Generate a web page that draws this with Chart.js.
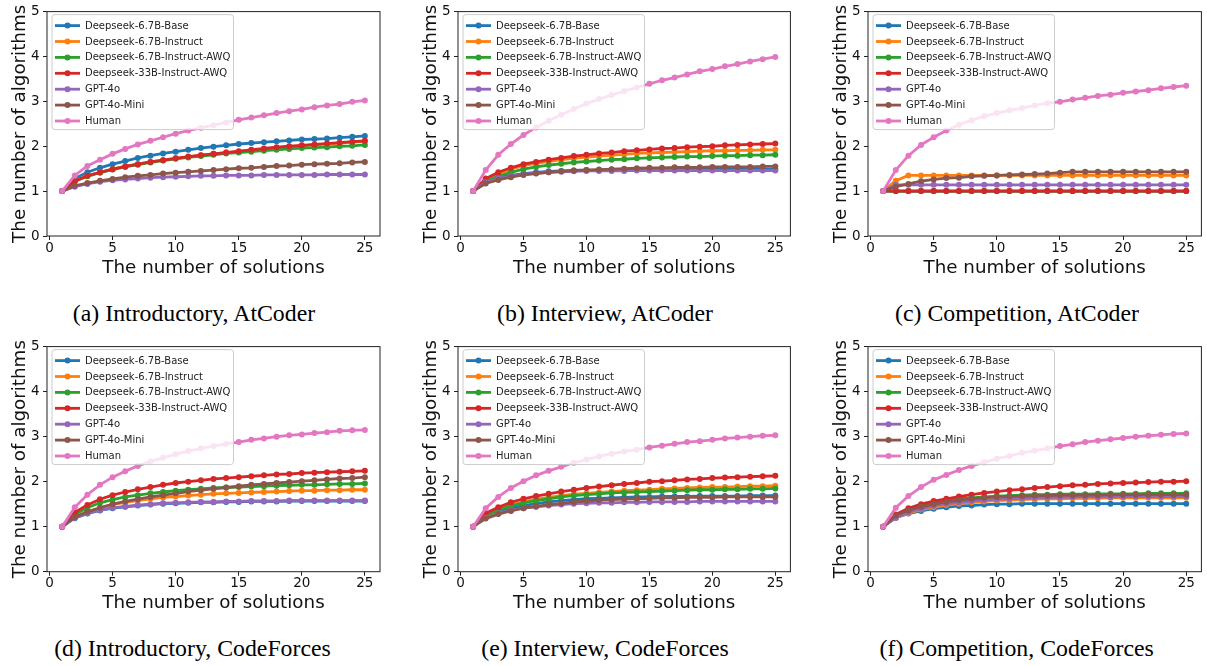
<!DOCTYPE html>
<html><head><meta charset="utf-8">
<script src="https://cdn.jsdelivr.net/npm/chart.js@4.4.1/dist/chart.umd.min.js"></script>
<style>
html,body{margin:0;padding:0;background:#fff;}
#fig{position:relative;width:1207px;height:666px;overflow:hidden;background:#fff;}
#fig canvas{position:absolute;}
.cap{position:absolute;width:360px;text-align:center;font-family:"Liberation Serif","Times New Roman",serif;font-size:23.8px;color:#000;line-height:24px;white-space:nowrap;}
</style></head><body><div id="fig"></div>
<script>
// ---- data ----
const solutions = [1,2,3,4,5,6,7,8,9,10,11,12,13,14,15,16,17,18,19,20,21,22,23,24,25];
const xTicks = [0,5,10,15,20,25];
const yTicks = [0,1,2,3,4,5];
const seriesNames = ["Deepseek-6.7B-Base","Deepseek-6.7B-Instruct","Deepseek-6.7B-Instruct-AWQ","Deepseek-33B-Instruct-AWQ","GPT-4o","GPT-4o-Mini","Human"];
const seriesColors = ["#1f77b4","#ff7f0e","#2ca02c","#d62728","#9467bd","#8c564b","#e377c2"];
const captions = ["(a) Introductory, AtCoder","(b) Interview, AtCoder","(c) Competition, AtCoder","(d) Introductory, CodeForces","(e) Interview, CodeForces","(f) Competition, CodeForces"];
const xTitle = "The number of solutions";
const yTitle = "The number of algorithms";

// (a) Introductory, AtCoder
const aBase     = [1.00,1.28,1.42,1.52,1.60,1.67,1.74,1.79,1.84,1.88,1.92,1.96,1.99,2.02,2.05,2.07,2.09,2.11,2.13,2.15,2.16,2.17,2.19,2.21,2.23];
const aInstruct = [1.00,1.22,1.34,1.42,1.49,1.55,1.60,1.65,1.69,1.73,1.76,1.80,1.83,1.86,1.88,1.91,1.94,1.96,1.99,2.01,2.03,2.05,2.07,2.09,2.11];
const aAwq      = [1.00,1.22,1.33,1.41,1.48,1.54,1.59,1.64,1.68,1.72,1.75,1.78,1.81,1.84,1.86,1.88,1.90,1.92,1.94,1.96,1.97,1.98,2.00,2.01,2.03];
const a33b      = [1.00,1.22,1.34,1.42,1.49,1.55,1.60,1.65,1.69,1.73,1.77,1.80,1.83,1.86,1.89,1.92,1.95,1.98,2.00,2.02,2.04,2.06,2.08,2.10,2.12];
const aGpt4o    = [1.00,1.10,1.16,1.21,1.24,1.26,1.28,1.30,1.31,1.32,1.33,1.34,1.34,1.35,1.35,1.35,1.36,1.36,1.36,1.36,1.36,1.37,1.37,1.37,1.37];
const aMini     = [1.00,1.12,1.18,1.23,1.27,1.31,1.34,1.36,1.39,1.41,1.43,1.45,1.47,1.49,1.51,1.52,1.54,1.56,1.57,1.59,1.60,1.61,1.62,1.64,1.65];
const aHuman    = [1.00,1.35,1.56,1.70,1.83,1.94,2.04,2.12,2.20,2.28,2.35,2.41,2.47,2.53,2.59,2.64,2.69,2.74,2.78,2.82,2.87,2.91,2.94,2.99,3.02];

// (b) Interview, AtCoder
const bBase     = [1.00,1.22,1.30,1.35,1.39,1.42,1.44,1.45,1.46,1.47,1.47,1.48,1.48,1.48,1.48,1.49,1.49,1.49,1.49,1.49,1.49,1.49,1.49,1.49,1.49];
const bInstruct = [1.00,1.25,1.39,1.49,1.57,1.62,1.66,1.70,1.73,1.76,1.78,1.80,1.82,1.84,1.85,1.86,1.87,1.88,1.89,1.90,1.90,1.91,1.91,1.92,1.92];
const bAwq      = [1.00,1.22,1.33,1.42,1.49,1.54,1.58,1.61,1.64,1.66,1.68,1.70,1.71,1.73,1.74,1.75,1.76,1.77,1.77,1.78,1.79,1.79,1.80,1.80,1.81];
const b33b      = [1.00,1.28,1.42,1.52,1.60,1.65,1.70,1.74,1.78,1.81,1.84,1.86,1.89,1.91,1.93,1.95,1.96,1.98,1.99,2.00,2.02,2.03,2.04,2.05,2.06];
const bGpt4o    = [1.00,1.20,1.28,1.33,1.37,1.40,1.42,1.43,1.44,1.45,1.45,1.45,1.45,1.46,1.46,1.46,1.46,1.46,1.46,1.46,1.46,1.46,1.46,1.46,1.46];
const bMini     = [1.00,1.17,1.25,1.31,1.36,1.39,1.42,1.44,1.46,1.47,1.48,1.49,1.50,1.51,1.52,1.52,1.53,1.53,1.53,1.54,1.54,1.54,1.54,1.55,1.55];
const bHuman    = [1.00,1.47,1.81,2.05,2.25,2.42,2.57,2.70,2.83,2.95,3.05,3.14,3.23,3.31,3.39,3.47,3.53,3.60,3.67,3.72,3.78,3.83,3.89,3.94,3.99];

// (c) Competition, AtCoder
const cBase     = [1.00,1.00,1.00,1.00,1.00,1.00,1.00,1.00,1.00,1.00,1.00,1.00,1.00,1.00,1.00,1.00,1.00,1.00,1.00,1.00,1.00,1.00,1.00,1.00,1.00];
const cInstruct = [1.00,1.23,1.35,1.35,1.35,1.35,1.35,1.35,1.35,1.35,1.35,1.35,1.35,1.35,1.35,1.35,1.35,1.35,1.35,1.35,1.35,1.35,1.35,1.35,1.35];
const cAwq      = [1.00,1.00,1.00,1.00,1.00,1.00,1.00,1.00,1.00,1.00,1.00,1.00,1.00,1.00,1.00,1.00,1.00,1.00,1.00,1.00,1.00,1.00,1.00,1.00,1.00];
const c33b      = [1.00,1.00,1.00,1.00,1.00,1.00,1.00,1.00,1.00,1.00,1.00,1.00,1.00,1.00,1.00,1.00,1.00,1.00,1.00,1.00,1.00,1.00,1.00,1.00,1.00];
const cGpt4o    = [1.00,1.14,1.14,1.14,1.14,1.14,1.14,1.14,1.14,1.14,1.14,1.14,1.14,1.14,1.14,1.14,1.14,1.14,1.14,1.14,1.14,1.14,1.14,1.14,1.14];
const cMini     = [1.00,1.10,1.16,1.22,1.26,1.29,1.30,1.33,1.34,1.35,1.36,1.37,1.38,1.39,1.41,1.43,1.43,1.43,1.43,1.43,1.43,1.43,1.43,1.43,1.43];
const cHuman    = [1.00,1.47,1.79,2.03,2.20,2.35,2.48,2.58,2.67,2.74,2.80,2.85,2.91,2.96,2.99,3.04,3.08,3.12,3.15,3.19,3.22,3.25,3.29,3.32,3.35];

// (d) Introductory, CodeForces
const dBase     = [1.00,1.19,1.29,1.36,1.41,1.44,1.47,1.49,1.51,1.52,1.53,1.54,1.54,1.55,1.55,1.56,1.56,1.56,1.57,1.57,1.57,1.57,1.57,1.57,1.57];
const dInstruct = [1.00,1.22,1.33,1.42,1.49,1.54,1.58,1.62,1.65,1.67,1.69,1.71,1.73,1.74,1.75,1.76,1.77,1.78,1.79,1.80,1.80,1.81,1.81,1.82,1.82];
const dAwq      = [1.00,1.27,1.42,1.53,1.60,1.66,1.70,1.74,1.77,1.80,1.82,1.84,1.86,1.87,1.88,1.89,1.90,1.91,1.92,1.93,1.93,1.94,1.95,1.95,1.96];
const d33b      = [1.00,1.32,1.48,1.61,1.70,1.77,1.83,1.88,1.93,1.97,2.00,2.03,2.06,2.08,2.10,2.12,2.14,2.16,2.17,2.19,2.20,2.21,2.22,2.23,2.24];
const dGpt4o    = [1.00,1.20,1.30,1.37,1.42,1.45,1.48,1.50,1.52,1.53,1.54,1.55,1.55,1.56,1.56,1.57,1.57,1.57,1.58,1.58,1.58,1.58,1.58,1.58,1.58];
const dMini     = [1.00,1.21,1.33,1.42,1.50,1.56,1.61,1.66,1.70,1.74,1.78,1.81,1.84,1.87,1.90,1.93,1.95,1.97,1.99,2.01,2.03,2.05,2.07,2.08,2.10];
const dHuman    = [1.00,1.43,1.71,1.93,2.10,2.23,2.35,2.45,2.53,2.61,2.68,2.74,2.79,2.84,2.88,2.93,2.96,3.00,3.03,3.05,3.08,3.10,3.13,3.14,3.15];

// (e) Interview, CodeForces
const eBase     = [1.00,1.22,1.33,1.41,1.47,1.51,1.55,1.58,1.60,1.62,1.63,1.64,1.65,1.66,1.66,1.67,1.67,1.67,1.68,1.68,1.68,1.68,1.69,1.69,1.69];
const eInstruct = [1.00,1.25,1.38,1.48,1.55,1.61,1.65,1.69,1.72,1.74,1.76,1.78,1.80,1.81,1.82,1.84,1.85,1.86,1.87,1.88,1.88,1.89,1.90,1.90,1.91];
const eAwq      = [1.00,1.24,1.37,1.46,1.53,1.58,1.62,1.66,1.69,1.71,1.73,1.75,1.76,1.77,1.78,1.79,1.80,1.81,1.82,1.82,1.83,1.83,1.84,1.84,1.85];
const e33b      = [1.00,1.30,1.43,1.54,1.62,1.68,1.73,1.78,1.82,1.86,1.89,1.92,1.95,1.97,2.00,2.01,2.03,2.05,2.06,2.08,2.09,2.10,2.11,2.12,2.13];
const eGpt4o    = [1.00,1.20,1.30,1.36,1.41,1.44,1.47,1.49,1.51,1.52,1.53,1.53,1.54,1.54,1.55,1.55,1.55,1.55,1.56,1.56,1.56,1.56,1.56,1.56,1.56];
const eMini     = [1.00,1.18,1.28,1.35,1.41,1.45,1.49,1.52,1.55,1.57,1.59,1.60,1.61,1.62,1.63,1.64,1.64,1.65,1.65,1.65,1.66,1.66,1.66,1.66,1.66];
const eHuman    = [1.00,1.41,1.66,1.86,2.01,2.14,2.24,2.33,2.42,2.49,2.56,2.62,2.67,2.71,2.76,2.80,2.84,2.88,2.90,2.93,2.96,2.98,3.00,3.02,3.03];

// (f) Competition, CodeForces
const fBase     = [1.00,1.20,1.29,1.35,1.40,1.43,1.46,1.47,1.49,1.50,1.50,1.51,1.51,1.51,1.51,1.51,1.51,1.51,1.51,1.51,1.51,1.51,1.51,1.51,1.51];
const fInstruct = [1.00,1.20,1.30,1.38,1.43,1.48,1.51,1.54,1.56,1.58,1.59,1.60,1.61,1.62,1.62,1.63,1.63,1.63,1.64,1.64,1.64,1.64,1.64,1.64,1.64];
const fAwq      = [1.00,1.25,1.38,1.46,1.53,1.58,1.62,1.64,1.66,1.68,1.69,1.70,1.71,1.71,1.72,1.72,1.72,1.73,1.73,1.73,1.73,1.74,1.74,1.74,1.74];
const f33b      = [1.00,1.27,1.41,1.50,1.57,1.62,1.67,1.71,1.75,1.78,1.81,1.83,1.86,1.88,1.90,1.92,1.93,1.95,1.96,1.97,1.98,1.99,2.00,2.00,2.01];
const fGpt4o    = [1.00,1.20,1.32,1.40,1.46,1.51,1.54,1.57,1.59,1.61,1.62,1.63,1.64,1.65,1.65,1.66,1.66,1.66,1.66,1.67,1.67,1.67,1.67,1.67,1.67];
const fMini     = [1.00,1.25,1.36,1.44,1.50,1.55,1.59,1.62,1.64,1.66,1.67,1.68,1.69,1.69,1.70,1.70,1.70,1.70,1.71,1.71,1.71,1.71,1.71,1.71,1.71];
const fHuman    = [1.00,1.42,1.68,1.88,2.04,2.15,2.26,2.35,2.43,2.51,2.57,2.64,2.69,2.74,2.79,2.83,2.88,2.91,2.94,2.97,3.00,3.02,3.04,3.06,3.07];

const panelSeries = [
  [aBase,aInstruct,aAwq,a33b,aGpt4o,aMini,aHuman],
  [bBase,bInstruct,bAwq,b33b,bGpt4o,bMini,bHuman],
  [cBase,cInstruct,cAwq,c33b,cGpt4o,cMini,cHuman],
  [dBase,dInstruct,dAwq,d33b,dGpt4o,dMini,dHuman],
  [eBase,eInstruct,eAwq,e33b,eGpt4o,eMini,eHuman],
  [fBase,fInstruct,fAwq,f33b,fGpt4o,fMini,fHuman]
];

// ---- layout (pixel geometry) ----
const colAxLeft = [47, 458.3, 868.3];
const colAxRight = [380, 790.7, 1201.7];
const rowAxTop = [10, 345];
const rowAxBottom = [236, 571.7];
const capCenterX = [194, 605, 1017, 192.5, 605, 1016.7];
const capCenterY = [313, 648];
const Y_AXIS_W = 47, X_AXIS_H = 50, PAD_TOP = 10, PAD_BOTTOM = 4, PAD_RIGHT = 5;
const FONT = "'DejaVu Sans', sans-serif";

const framePlugin = {
  id: 'frame',
  afterDatasetsDraw(chart) {
    const {ctx, chartArea: a} = chart;
    ctx.save();
    ctx.strokeStyle = '#222';
    ctx.lineWidth = 1;
    ctx.strokeRect(a.left, a.top, a.right - a.left, a.bottom - a.top);
    ctx.restore();
  }
};

function roundRect(ctx, x, y, w, h, r) {
  ctx.beginPath();
  ctx.moveTo(x + r, y);
  ctx.lineTo(x + w - r, y); ctx.quadraticCurveTo(x + w, y, x + w, y + r);
  ctx.lineTo(x + w, y + h - r); ctx.quadraticCurveTo(x + w, y + h, x + w - r, y + h);
  ctx.lineTo(x + r, y + h); ctx.quadraticCurveTo(x, y + h, x, y + h - r);
  ctx.lineTo(x, y + r); ctx.quadraticCurveTo(x, y, x + r, y);
  ctx.closePath();
}

const legendPlugin = {
  id: 'mplLegend',
  afterDraw(chart) {
    const {ctx, chartArea: a} = chart;
    const bx = a.left + 5, by = a.top + 3, bw = 181.5, bh = 115;
    ctx.save();
    roundRect(ctx, bx, by, bw, bh, 3);
    ctx.fillStyle = 'rgba(255,255,255,0.8)';
    ctx.fill();
    ctx.strokeStyle = '#cccccc';
    ctx.lineWidth = 1;
    ctx.stroke();
    chart.data.datasets.forEach((ds, i) => {
      const cy = by + 11 + i * 15.9;
      ctx.strokeStyle = ds.borderColor;
      ctx.lineWidth = 2.8;
      ctx.beginPath();
      ctx.moveTo(bx + 3, cy); ctx.lineTo(bx + 28, cy);
      ctx.stroke();
      ctx.fillStyle = ds.borderColor;
      ctx.beginPath(); ctx.arc(bx + 15.5, cy, 3, 0, Math.PI * 2); ctx.fill();
      ctx.fillStyle = '#222';
      ctx.font = "10px " + FONT;
      ctx.textBaseline = 'middle';
      ctx.textAlign = 'left';
      ctx.fillText(ds.label, bx + 33, cy + 0.5);
    });
    ctx.restore();
  }
};

const fig = document.getElementById('fig');
panelSeries.forEach((series, p) => {
  const col = p % 3, row = Math.floor(p / 3);
  const axL = colAxLeft[col], axR = colAxRight[col];
  const axT = rowAxTop[row], axB = rowAxBottom[row];
  const left = axL - Y_AXIS_W, top = axT - PAD_TOP;
  const w = Math.round(axR - left + PAD_RIGHT);
  const h = Math.round(PAD_TOP + (axB - axT) + X_AXIS_H + PAD_BOTTOM);
  const padRight = w - Y_AXIS_W - (axR - axL);
  const padBottom = h - PAD_TOP - (axB - axT) - X_AXIS_H;
  const cv = document.createElement('canvas');
  cv.width = w; cv.height = h;
  cv.style.left = left + 'px'; cv.style.top = top + 'px';
  cv.style.width = w + 'px'; cv.style.height = h + 'px';
  fig.appendChild(cv);

  const cap = document.createElement('div');
  cap.className = 'cap';
  cap.textContent = captions[p];
  cap.style.left = (capCenterX[p] - 180) + 'px';
  cap.style.top = (capCenterY[row] - 12) + 'px';
  fig.appendChild(cap);

  const datasets = series.map((vals, i) => ({
    label: seriesNames[i],
    data: solutions.map((x, k) => ({x: x, y: vals[k]})),
    borderColor: seriesColors[i],
    backgroundColor: seriesColors[i],
    pointBackgroundColor: seriesColors[i],
    pointBorderWidth: 0,
    pointRadius: 3,
    borderWidth: 2.8,
    tension: 0,
    fill: false,
    order: series.length - 1 - i
  }));

  new Chart(cv, {
    type: 'line',
    data: {datasets},
    options: {
      responsive: false,
      animation: false,
      devicePixelRatio: window.devicePixelRatio || 1,
      layout: {padding: {left: 0, top: PAD_TOP, right: padRight, bottom: padBottom}},
      plugins: {legend: {display: false}, tooltip: {enabled: false}},
      scales: {
        x: {
          type: 'linear', min: -0.2, max: 26.2,
          afterBuildTicks: s => { s.ticks = xTicks.map(v => ({value: v})); },
          afterFit: s => { s.height = X_AXIS_H; },
          grid: {display: true, drawOnChartArea: false, drawTicks: true, tickLength: 4, color: '#222', lineWidth: 1},
          border: {display: false},
          ticks: {font: {family: FONT, size: 13.5}, color: '#111', padding: 0, maxRotation: 0, autoSkip: false},
          title: {display: true, text: xTitle, font: {family: FONT, size: 18.3}, color: '#111', padding: {top: 0, bottom: 7}}
        },
        y: {
          type: 'linear', min: 0, max: 5,
          afterBuildTicks: s => { s.ticks = yTicks.map(v => ({value: v})); },
          afterFit: s => { s.width = Y_AXIS_W; },
          grid: {display: true, drawOnChartArea: false, drawTicks: true, tickLength: 4, color: '#222', lineWidth: 1},
          border: {display: false},
          ticks: {font: {family: FONT, size: 13.5}, color: '#111', padding: 3.5},
          title: {display: true, text: yTitle, font: {family: FONT, size: 18.3}, color: '#111', padding: {top: 9, bottom: 0}}
        }
      }
    },
    plugins: [framePlugin, legendPlugin]
  });
});
</script></body></html>
